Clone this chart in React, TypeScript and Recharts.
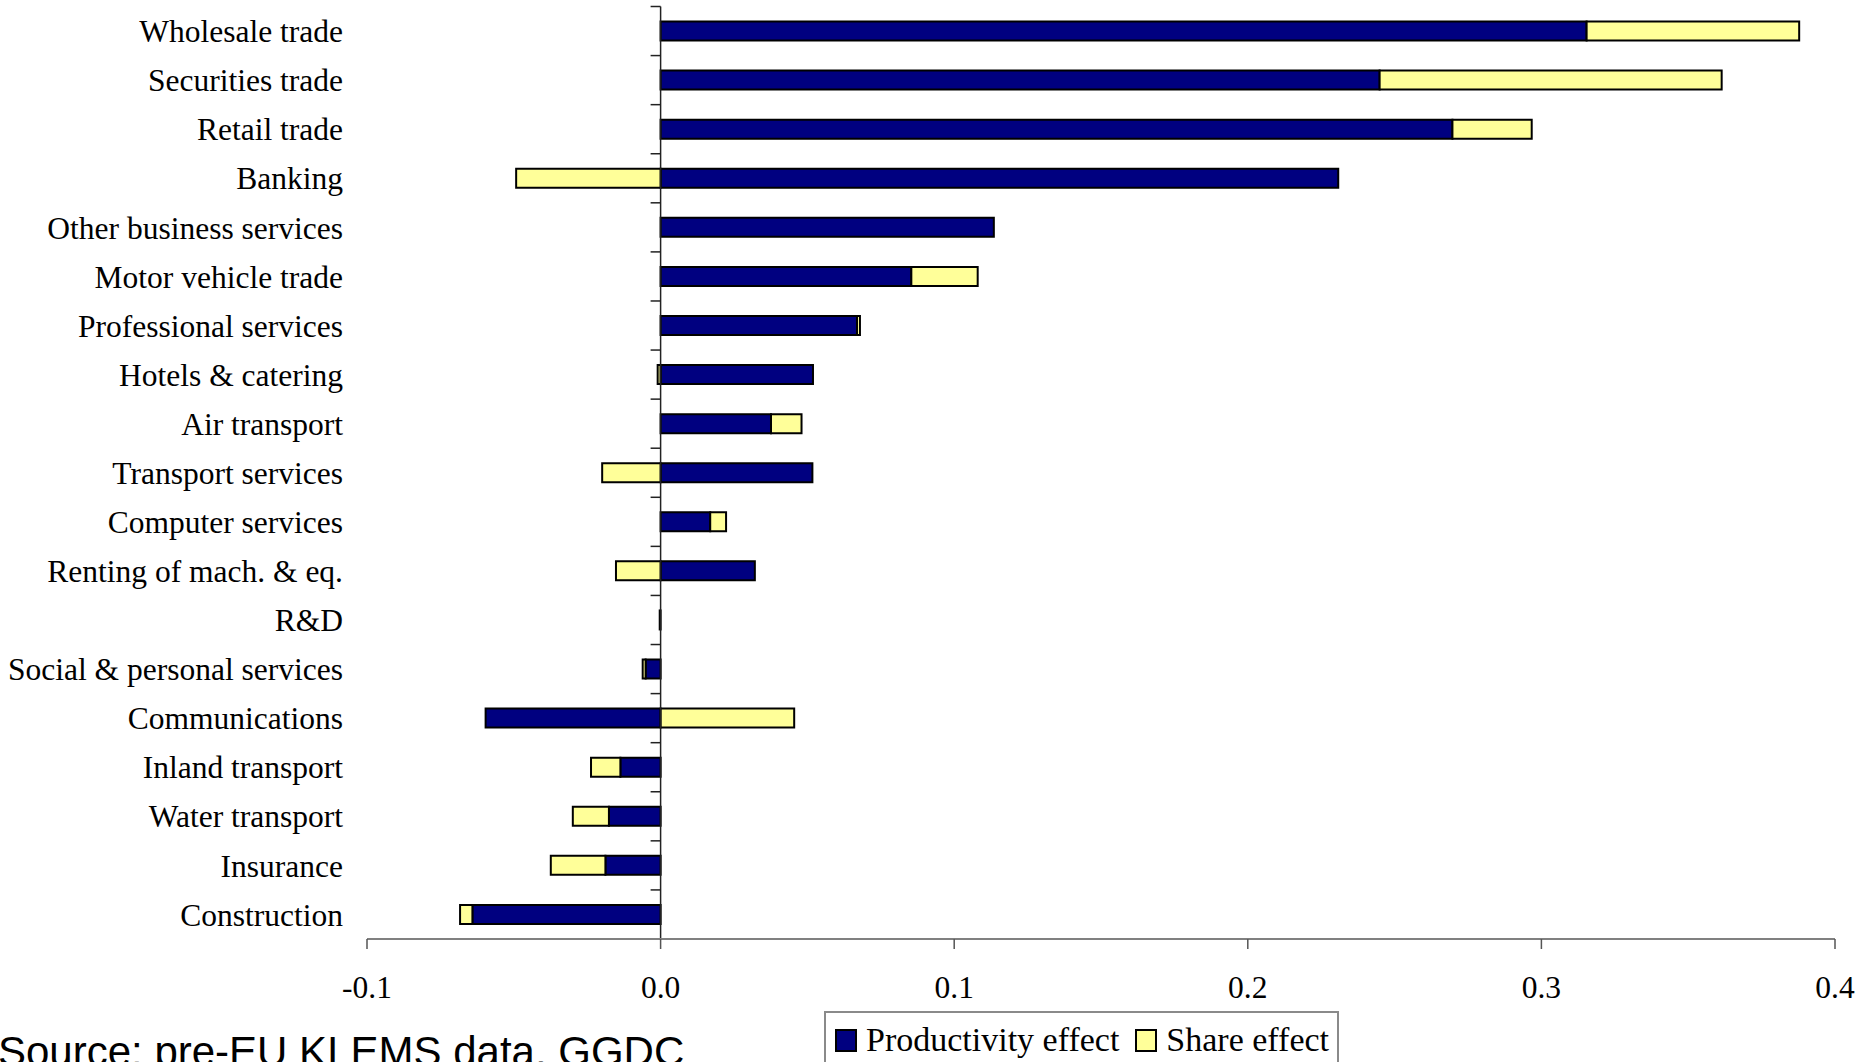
import React from "react";
import { BarChart, Bar, XAxis, YAxis, ReferenceLine, Legend } from "recharts";

const categories = [
  "Wholesale trade",
  "Securities trade",
  "Retail trade",
  "Banking",
  "Other business services",
  "Motor vehicle trade",
  "Professional services",
  "Hotels & catering",
  "Air transport",
  "Transport services",
  "Computer services",
  "Renting of mach. & eq.",
  "R&D",
  "Social & personal services",
  "Communications",
  "Inland transport",
  "Water transport",
  "Insurance",
  "Construction",
];

const productivityEffect = [
  0.3154, 0.2449, 0.2697, 0.2308, 0.1135, 0.0854, 0.0669, 0.0519, 0.0376, 0.0517,
  0.0169, 0.0321, -0.0003, -0.0051, -0.0596, -0.0137, -0.0176, -0.0188, -0.0641,
];

const shareEffect = [
  0.0724, 0.1165, 0.027, -0.0492, 0, 0.0226, 0.001, -0.001, 0.0104, -0.0199,
  0.0054, -0.0152, 0, -0.001, 0.0455, -0.01, -0.0123, -0.0186, -0.0042,
];

const xTicks = [-0.1, 0, 0.1, 0.2, 0.3, 0.4];

const data = categories.map((name, i) => ({
  name,
  productivity: productivityEffect[i],
  share: shareEffect[i],
}));

const SERIF = "'Liberation Serif', 'Times New Roman', serif";

const ZeroAxis = (props: any) => {
  const { x1, y1, x2, y2 } = props;
  const n = categories.length;
  const top = Math.min(y1, y2);
  const bottom = Math.max(y1, y2);
  const step = (bottom - top) / n;
  const ticks = [];
  for (let i = 0; i <= n; i++) {
    const y = top + i * step;
    ticks.push(
      <line key={i} x1={x1 - 10} x2={x1} y1={y} y2={y} stroke="#222" strokeWidth={1.5} />
    );
  }
  return (
    <g>
      <line x1={x1} y1={y1} x2={x2} y2={y2} stroke="#222" strokeWidth={1.5} />
      {ticks}
    </g>
  );
};

const renderLegend = (props: any) => {
  const { payload } = props;
  return (
    <div
      style={{
        boxSizing: "border-box",
        width: 515,
        height: 80,
        border: "2px solid #8a8a8a",
        background: "#fff",
        display: "flex",
        alignItems: "flex-start",
        paddingLeft: 9,
        paddingTop: 13,
        fontFamily: SERIF,
        fontSize: 34,
        color: "#000",
      }}
    >
      {(payload || []).map((entry: any, idx: number) => (
        <div
          key={idx}
          style={{ display: "flex", alignItems: "center", marginRight: 16, height: 28 }}
        >
          <span
            style={{
              display: "inline-block",
              boxSizing: "border-box",
              width: 22,
              height: 23,
              background: entry.color,
              border: "2px solid #000",
              marginRight: 9,
            }}
          />
          <span style={{ lineHeight: "28px", whiteSpace: "nowrap" }}>{entry.value}</span>
        </div>
      ))}
    </div>
  );
};

export default function App() {
  return (
    <div
      style={{
        position: "absolute",
        left: 0,
        top: 0,
        width: 1868,
        height: 1062,
        overflow: "hidden",
        background: "#fff",
      }}
    >
      <BarChart
        width={1868}
        height={1062}
        data={data}
        layout="vertical"
        stackOffset="sign"
        margin={{ top: 6.5, right: 33, bottom: 63, left: 0 }}
        barSize={19}
      >
        <XAxis
          type="number"
          domain={[-0.1, 0.4]}
          ticks={xTicks}
          allowDataOverflow
          tickFormatter={(v: number) => v.toFixed(1)}
          axisLine={{ stroke: "#808080", strokeWidth: 2 }}
          tickLine={{ stroke: "#555", strokeWidth: 1.5 }}
          tickSize={10}
          tickMargin={27}
          height={60}
          tick={{ fontFamily: SERIF, fontSize: 31.5, fill: "#000" }}
        />
        <YAxis
          type="category"
          dataKey="name"
          width={367}
          interval={0}
          axisLine={false}
          tickLine={false}
          tickSize={0}
          tickMargin={24}
          tick={{ fontFamily: SERIF, fontSize: 31.5, fill: "#000" }}
        />
        <Bar
          dataKey="productivity"
          name="Productivity effect"
          stackId="a"
          fill="#000080"
          stroke="#000"
          strokeWidth={2}
          isAnimationActive={false}
        />
        <Bar
          dataKey="share"
          name="Share effect"
          stackId="a"
          fill="#FFFF99"
          stroke="#000"
          strokeWidth={2}
          isAnimationActive={false}
        />
        <ReferenceLine x={0} shape={ZeroAxis} />
        <Legend
          layout="horizontal"
          verticalAlign="middle"
          align="center"
          wrapperStyle={{ left: 824, top: 1011, width: 515, height: 80 }}
          content={renderLegend}
        />
      </BarChart>
      <div
        style={{
          position: "absolute",
          left: -2,
          top: 1031,
          fontFamily: "'Liberation Sans', Arial, sans-serif",
          fontSize: 42,
          lineHeight: "42px",
          whiteSpace: "nowrap",
          color: "#000",
        }}
      >
        Source: pre-EU KLEMS data, GGDC
      </div>
    </div>
  );
}
